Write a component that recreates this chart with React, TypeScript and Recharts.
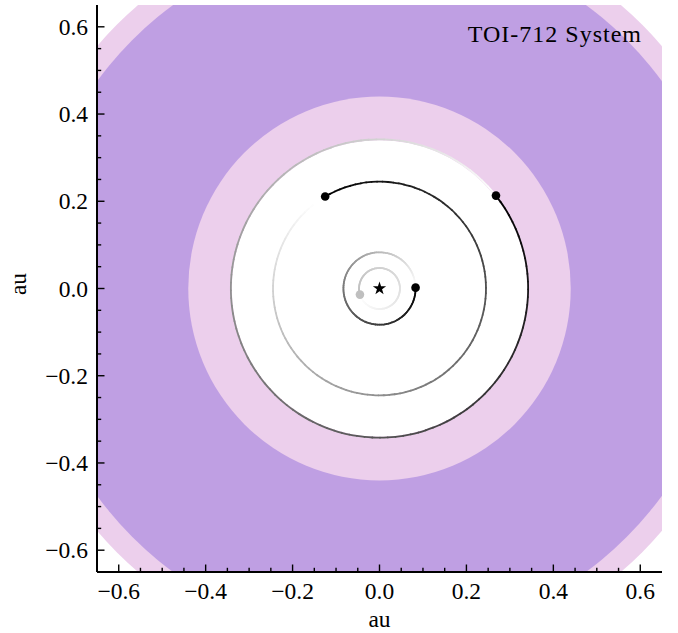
import {
  ComposedChart,
  Scatter,
  XAxis,
  YAxis,
  ReferenceArea,
} from "recharts";

const axisDomain: [number, number] = [-0.65, 0.65];
const majorTicks = [-0.6, -0.4, -0.2, 0, 0.2, 0.4, 0.6];
const minorTicks = [
  -0.55, -0.5, -0.45, -0.35, -0.3, -0.25, -0.15, -0.1, -0.05,
  0.05, 0.1, 0.15, 0.25, 0.3, 0.35, 0.45, 0.5, 0.55,
];
const allTicks = [...majorTicks, ...minorTicks];

// habitable zone bands, outermost first (au)
const zoneRadii = [0.855, 0.805, 0.44, 0.34];
const zoneColors = ["#eccfec", "#bf9fe3", "#eccfec", "#ffffff"];

// planets: current position, orbit radius, trail length (deg), darkness
const planetX = [-0.045, 0.083, -0.125, 0.268];
const planetY = [-0.014, 0.002, 0.211, 0.213];
const orbitRadii = [0.047, 0.083, 0.245, 0.342];
const trailSweep = [355, 355, 352, 358];
const planetShade = [0.25, 1, 1, 1];

const starPos = [{ x: 0, y: 0 }];

const FONT = "'Liberation Serif', serif";
const fontStyle = { fontFamily: FONT };
const TICK_FONT = 23.5;

function gray(alpha: number) {
  const v = Math.round(255 * (1 - alpha));
  return `rgb(${v},${v},${v})`;
}

function fmtTick(v: number) {
  return (v < 0 ? "\u2212" : "") + Math.abs(v).toFixed(1);
}

function isMajor(v: number) {
  return majorTicks.some((m) => Math.abs(m - v) < 1e-6);
}

const MAJOR = 7.5;
const MINOR = 4.2;
const TICK_W = 1.4;

function BottomTick({ x, y, payload }: any) {
  const major = isMajor(payload.value);
  return (
    <g>
      <line x1={x} x2={x} y1={y} y2={y - (major ? MAJOR : MINOR)} stroke="#000" strokeWidth={TICK_W} />
      {major && (
        <text x={x} y={y + 27} textAnchor="middle" style={fontStyle} fontSize={TICK_FONT} fill="#000">
          {fmtTick(payload.value)}
        </text>
      )}
    </g>
  );
}

function TopTick({ x, y, payload }: any) {
  const major = isMajor(payload.value);
  return <line x1={x} x2={x} y1={y} y2={y + (major ? MAJOR : MINOR)} stroke="#000" strokeWidth={TICK_W} />;
}

function LeftTick({ x, y, payload }: any) {
  const major = isMajor(payload.value);
  return (
    <g>
      <line x1={x} x2={x + (major ? MAJOR : MINOR)} y1={y} y2={y} stroke="#000" strokeWidth={TICK_W} />
      {major && (
        <text x={x - 9} y={y + 8} textAnchor="end" style={fontStyle} fontSize={TICK_FONT} fill="#000">
          {fmtTick(payload.value)}
        </text>
      )}
    </g>
  );
}

function RightTick({ x, y, payload }: any) {
  const major = isMajor(payload.value);
  return <line x1={x} x2={x - (major ? MAJOR : MINOR)} y1={y} y2={y} stroke="#000" strokeWidth={TICK_W} />;
}

const diskShape = (props: any) => (
  <ellipse
    cx={props.x + props.width / 2}
    cy={props.y + props.height / 2}
    rx={props.width / 2}
    ry={props.height / 2}
    fill={props.fill}
    stroke="none"
    clipPath={props.clipPath}
  />
);

// fading orbit trail drawn behind the planet (clockwise from its current angle)
const trailShape = (i: number) => (props: any) => {
  const cx = props.x + props.width / 2;
  const cy = props.y + props.height / 2;
  const rx = props.width / 2;
  const ry = props.height / 2;
  const start = (Math.atan2(planetY[i], planetX[i]) * 180) / Math.PI;
  const n = 120;
  const segs = [];
  for (let k = n - 1; k >= 0; k--) {
    const d1 = (trailSweep[i] * k) / n;
    const d2 = (trailSweep[i] * (k + 1)) / n;
    const a1 = ((start - d1) * Math.PI) / 180;
    const a2 = ((start - d2) * Math.PI) / 180;
    const alpha = planetShade[i] * Math.pow(1 - (d1 + d2) / 2 / trailSweep[i], 0.9);
    const p1x = cx + rx * Math.cos(a1);
    const p1y = cy - ry * Math.sin(a1);
    const p2x = cx + rx * Math.cos(a2);
    const p2y = cy - ry * Math.sin(a2);
    segs.push(
      <path
        key={k}
        d={`M${p1x},${p1y} A${rx},${ry} 0 0 1 ${p2x},${p2y}`}
        fill="none"
        stroke={gray(alpha)}
        strokeWidth={1.8}
        strokeLinecap="round"
      />
    );
  }
  return <g>{segs}</g>;
};

const PlanetDot = (props: any) => (
  <circle cx={props.cx} cy={props.cy} r={4.3} fill={gray(props.payload.shade)} />
);

const StarMarker = (props: any) => {
  const R = 7;
  const r = R * 0.382;
  const pts = [];
  for (let k = 0; k < 10; k++) {
    const ang = (-90 + k * 36) * (Math.PI / 180);
    const rad = k % 2 === 0 ? R : r;
    pts.push(`${props.cx + rad * Math.cos(ang)},${props.cy + rad * Math.sin(ang)}`);
  }
  return <polygon points={pts.join(" ")} fill="#000" />;
};

const planetData = planetX.map((x, i) => ({ x, y: planetY[i], shade: planetShade[i] }));

export default function App() {
  return (
    <div style={{ position: "absolute", left: 0, top: 0, width: 678, height: 633, background: "#fff" }}>
      <ComposedChart
        width={678}
        height={633}
        margin={{ top: 5, right: 16, bottom: 21, left: 37 }}
      >
        <XAxis
          type="number"
          dataKey="x"
          domain={axisDomain}
          allowDataOverflow
          ticks={allTicks}
          interval={0}
          tickSize={0}
          tickMargin={0}
          tick={<BottomTick />}
          tickLine={false}
          axisLine={{ stroke: "#000", strokeWidth: 2 }}
          height={40}
        />
        <XAxis
          xAxisId="top"
          orientation="top"
          type="number"
          domain={axisDomain}
          allowDataOverflow
          ticks={allTicks}
          interval={0}
          tickSize={0}
          tickMargin={0}
          tick={<TopTick />}
          tickLine={false}
          axisLine={{ stroke: "#000", strokeWidth: 2 }}
          height={0}
        />
        <YAxis
          type="number"
          dataKey="y"
          domain={axisDomain}
          allowDataOverflow
          ticks={allTicks}
          interval={0}
          tickSize={0}
          tickMargin={0}
          tick={<LeftTick />}
          tickLine={false}
          axisLine={{ stroke: "#000", strokeWidth: 2 }}
          width={60}
        />
        <YAxis
          yAxisId="right"
          orientation="right"
          type="number"
          domain={axisDomain}
          allowDataOverflow
          ticks={allTicks}
          interval={0}
          tickSize={0}
          tickMargin={0}
          tick={<RightTick />}
          tickLine={false}
          axisLine={{ stroke: "#000", strokeWidth: 2 }}
          width={0}
        />
        {zoneRadii.map((r, i) => (
          <ReferenceArea
            key={`zone-${i}`}
            x1={-r}
            x2={r}
            y1={-r}
            y2={r}
            fill={zoneColors[i]}
            fillOpacity={1}
            ifOverflow="hidden"
            shape={diskShape}
          />
        ))}
        {orbitRadii.map((r, i) => (
          <ReferenceArea
            key={`orbit-${i}`}
            x1={-r}
            x2={r}
            y1={-r}
            y2={r}
            ifOverflow="hidden"
            shape={trailShape(i)}
          />
        ))}
        <Scatter data={starPos} shape={<StarMarker />} isAnimationActive={false} />
        <Scatter data={planetData} shape={<PlanetDot />} isAnimationActive={false} />
      </ComposedChart>
      <svg
        width={678}
        height={633}
        style={{ position: "absolute", left: 0, top: 0, pointerEvents: "none", ...fontStyle }}
      >
        <text x={642} y={42} textAnchor="end" fontSize={24} letterSpacing={1} fill="#000">
          TOI-712 System
        </text>
        <text x={379.5} y={627} textAnchor="middle" fontSize={23.5} fill="#000">
          au
        </text>
        <text x={26} y={284} textAnchor="middle" fontSize={23.5} fill="#000" transform="rotate(-90 26 284)">
          au
        </text>
      </svg>
    </div>
  );
}
